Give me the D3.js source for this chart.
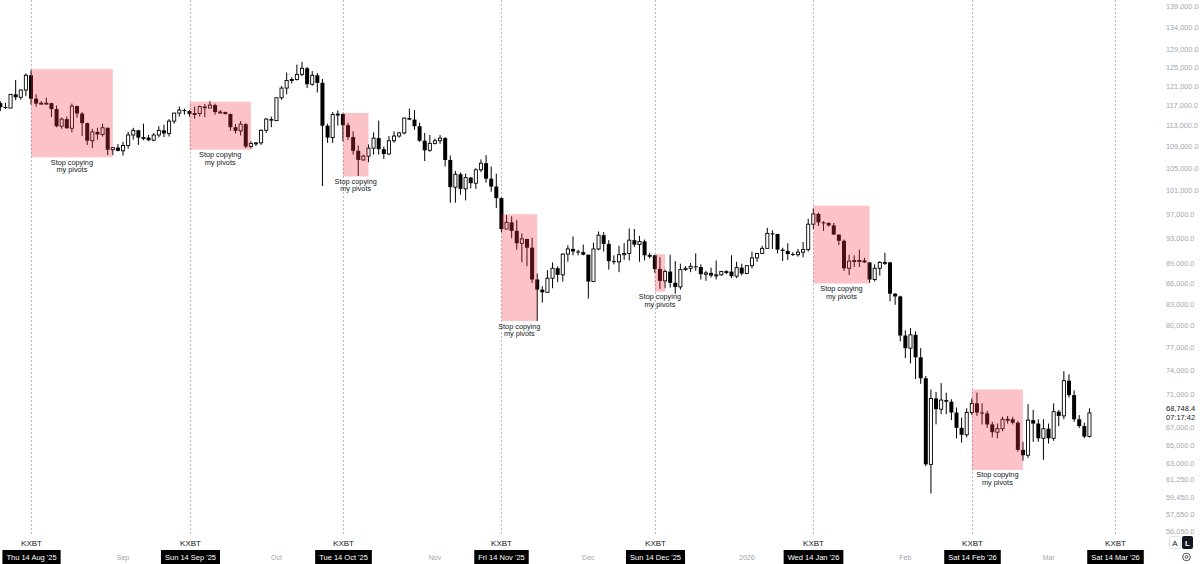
<!DOCTYPE html>
<html>
<head>
<meta charset="utf-8">
<script src="https://cdn.jsdelivr.net/npm/d3@7"></script>
<style>
html, body { margin: 0; padding: 0; background: #fff; }
svg { display: block; font-family: "Liberation Sans", Arial, sans-serif; }
</style>
</head>
<body>
<svg class="chart" width="1200" height="564"></svg>
<script>
const svg = d3.select(".chart");
const DAY = 86400000;
const BOXFILL = "rgba(242, 54, 69, 0.3)";
const AXISTEXT = "#a3a6af";
const DARKTEXT = "#131722";

// daily candles, open/high/low/close in thousands of USD, starting on firstDay
const firstDay = "2025-08-08";
const aug25 = [
    [117.5, 117.9, 115.9, 116.7], [116.7, 117.6, 116.3, 116.5], [116.5, 119.3, 116.5, 119.3], [119.3, 122.3, 118.1, 118.7],
    [118.7, 120.3, 118.2, 120.2], [120.2, 123.7, 118.9, 123.3], [123.3, 124.4, 117.2, 118.4], [118.4, 119.3, 116.8, 117.4],
    [117.4, 117.9, 117.2, 117.5], [117.5, 118.6, 117.3, 117.5], [117.5, 117.6, 114.7, 116.3], [116.3, 117.0, 112.7, 112.9],
    [112.9, 114.6, 112.4, 114.3], [114.3, 114.8, 112.4, 112.5], [112.5, 117.4, 111.7, 116.9], [116.9, 117.0, 114.6, 115.4],
    [115.4, 115.7, 111.0, 113.5], [113.5, 113.6, 109.3, 110.1], [110.1, 112.4, 108.7, 111.8], [111.8, 112.6, 110.3, 111.3],
    [111.3, 113.4, 110.9, 112.6], [112.6, 112.6, 107.4, 108.4], [108.4, 108.9, 107.4, 108.8], [108.8, 109.5, 108.1, 108.2]
];
const sep25 = [
    [108.2, 109.9, 107.3, 109.2], [109.2, 111.8, 108.6, 111.2], [111.2, 112.6, 110.3, 112.1], [112.1, 112.2, 109.3, 110.7],
    [110.7, 113.4, 110.2, 110.7], [110.7, 111.2, 110.0, 110.2], [110.2, 111.6, 110.0, 111.2], [111.2, 112.9, 110.7, 112.1],
    [112.1, 113.2, 110.8, 111.5], [111.5, 114.3, 110.9, 113.9], [113.9, 115.5, 113.4, 115.5], [115.5, 116.8, 114.8, 116.1],
    [116.1, 116.4, 115.2, 115.9], [115.9, 116.1, 114.8, 115.3], [115.3, 116.8, 114.4, 115.4], [115.4, 117.0, 114.8, 116.8],
    [116.8, 117.3, 114.7, 116.5], [116.5, 117.9, 116.5, 117.1], [117.1, 117.4, 115.2, 115.7], [115.7, 116.1, 115.5, 115.7],
    [115.7, 115.8, 115.2, 115.3], [115.3, 115.4, 112.0, 112.7], [112.7, 113.3, 111.5, 112.0], [112.0, 113.9, 111.1, 113.3],
    [113.3, 113.5, 108.7, 109.0], [109.0, 110.0, 108.6, 109.6], [109.6, 109.8, 109.1, 109.7], [109.7, 112.3, 109.3, 112.1],
    [112.1, 114.5, 111.6, 114.3], [114.3, 114.8, 112.7, 114.0]
];
const oct25 = [
    [114.0, 118.6, 113.9, 118.6], [118.6, 121.0, 118.2, 120.6], [120.6, 123.9, 119.3, 122.2], [122.2, 122.9, 121.6, 122.4],
    [122.4, 125.6, 122.2, 123.5], [123.5, 126.2, 123.1, 124.8], [124.8, 125.1, 120.6, 121.4], [121.4, 124.2, 121.1, 123.3],
    [123.3, 123.8, 119.7, 121.7], [121.7, 122.5, 101.8, 113.0], [113.0, 113.4, 109.7, 110.7], [110.7, 115.7, 109.7, 115.2],
    [115.2, 116.0, 113.0, 115.3], [115.3, 115.4, 110.0, 113.1], [113.1, 113.6, 110.2, 110.8], [110.8, 111.9, 107.5, 108.2],
    [108.2, 109.2, 103.6, 106.5], [106.5, 107.5, 106.4, 107.2], [107.2, 109.4, 106.1, 108.7], [108.7, 111.7, 107.5, 110.6],
    [110.6, 114.0, 107.5, 108.5], [108.5, 109.0, 106.7, 107.6], [107.6, 111.0, 107.5, 110.1], [110.1, 111.9, 109.7, 111.0],
    [111.0, 111.8, 110.7, 111.6], [111.6, 114.6, 111.3, 114.5], [114.5, 116.4, 114.1, 114.2], [114.2, 116.1, 112.2, 112.9],
    [112.9, 113.6, 109.9, 110.1], [110.1, 111.6, 106.3, 108.3], [108.3, 111.2, 108.0, 109.6]
];
const nov25 = [
    [109.6, 110.5, 109.4, 110.1], [110.1, 111.2, 109.5, 110.6], [110.6, 110.8, 105.3, 106.5], [106.5, 107.3, 98.9, 101.6],
    [101.6, 104.5, 98.9, 103.9], [103.9, 104.2, 100.3, 101.3], [101.3, 104.0, 99.3, 103.3], [103.3, 103.4, 101.4, 102.3],
    [102.3, 105.0, 101.3, 104.7], [104.7, 106.6, 104.3, 105.9], [105.9, 107.4, 102.4, 103.1], [103.1, 105.3, 100.8, 101.7],
    [101.7, 104.0, 98.0, 99.7], [99.7, 99.8, 94.0, 94.5], [94.5, 96.8, 94.5, 95.6], [95.6, 96.6, 93.0, 94.2],
    [94.2, 96.0, 91.2, 92.2], [92.2, 93.8, 89.2, 92.9], [92.9, 92.9, 88.6, 91.5], [91.5, 93.1, 86.1, 86.6],
    [86.6, 87.5, 80.6, 85.1], [85.1, 85.6, 83.2, 84.7], [84.7, 88.0, 84.7, 86.8], [86.8, 89.2, 85.3, 88.3],
    [88.3, 88.6, 86.2, 87.3], [87.3, 90.6, 86.3, 90.5], [90.5, 91.9, 89.3, 91.3], [91.3, 93.3, 90.3, 90.9],
    [90.9, 91.2, 90.3, 90.8], [90.8, 92.0, 90.3, 90.4]
];
const dec25 = [
    [90.4, 90.4, 83.8, 86.3], [86.3, 92.3, 86.2, 91.3], [91.3, 94.1, 91.1, 93.5], [93.5, 94.0, 90.9, 92.1],
    [92.1, 92.7, 88.1, 89.4], [89.4, 90.3, 88.9, 89.3], [89.3, 91.8, 87.7, 90.4], [90.4, 92.2, 89.6, 90.6],
    [90.6, 94.6, 89.5, 92.7], [92.7, 94.5, 91.6, 92.0], [92.0, 93.4, 89.3, 92.5], [92.5, 92.8, 89.5, 90.3],
    [90.3, 90.7, 89.8, 90.3], [90.3, 90.4, 87.6, 88.2], [88.2, 90.0, 85.2, 86.4], [86.4, 88.1, 85.3, 87.8],
    [87.8, 90.4, 85.4, 86.1], [86.1, 89.4, 84.5, 85.5], [85.5, 89.0, 85.1, 88.1], [88.1, 88.6, 87.9, 88.3],
    [88.3, 89.1, 87.7, 88.6], [88.6, 90.6, 87.9, 88.5], [88.5, 88.9, 86.6, 87.4], [87.4, 87.9, 86.4, 87.6],
    [87.6, 88.4, 86.9, 87.2], [87.2, 89.5, 86.6, 87.3], [87.3, 87.9, 87.2, 87.8], [87.8, 88.0, 87.4, 87.8],
    [87.8, 90.3, 86.8, 87.1], [87.1, 89.3, 86.8, 88.4], [88.4, 89.0, 87.2, 87.5]
];
const jan26 = [
    [87.5, 88.8, 87.4, 88.7], [88.7, 90.9, 88.3, 89.9], [89.9, 90.6, 89.3, 90.6], [90.6, 91.8, 90.5, 91.4],
    [91.4, 94.7, 91.4, 93.8], [93.8, 94.3, 91.3, 93.7], [93.7, 93.7, 90.6, 91.2], [91.2, 91.5, 89.4, 91.0],
    [91.0, 92.2, 89.6, 90.5], [90.5, 90.8, 90.2, 90.4], [90.4, 91.3, 90.1, 90.8], [90.8, 92.4, 90.0, 91.2],
    [91.2, 96.2, 90.9, 95.3], [95.3, 97.9, 94.5, 97.0], [97.0, 97.2, 95.0, 95.6], [95.6, 95.8, 94.2, 95.5],
    [95.5, 95.6, 94.9, 95.1], [95.1, 95.5, 93.6, 93.6], [93.6, 93.6, 91.9, 92.6], [92.6, 92.8, 87.9, 88.3],
    [88.3, 90.4, 87.3, 89.4], [89.4, 90.3, 88.5, 89.5], [89.5, 91.2, 88.5, 89.5], [89.5, 89.9, 89.1, 89.2],
    [89.2, 89.2, 86.1, 86.6], [86.6, 88.9, 86.3, 88.3], [88.3, 89.4, 87.2, 89.2], [89.2, 90.7, 88.8, 89.2],
    [89.2, 89.3, 83.4, 84.5], [84.5, 84.6, 82.9, 84.1], [84.1, 84.2, 77.8, 78.6]
];
const feb26 = [
    [78.6, 79.3, 75.6, 76.9], [76.9, 79.6, 74.9, 78.7], [78.7, 79.2, 72.9, 75.7], [75.7, 76.9, 72.3, 73.0],
    [73.0, 73.3, 62.7, 62.9], [62.9, 71.6, 59.8, 70.5], [70.5, 71.3, 67.4, 69.2], [69.2, 72.4, 68.6, 70.3],
    [70.3, 71.2, 68.6, 70.1], [70.1, 70.4, 67.9, 68.8], [68.8, 69.4, 65.8, 67.0], [67.0, 68.2, 65.3, 66.2],
    [66.2, 69.3, 65.9, 68.8], [68.8, 70.5, 68.5, 69.9], [69.9, 71.2, 68.4, 68.8], [68.8, 69.9, 67.4, 68.7],
    [68.7, 69.0, 67.0, 67.4], [67.4, 67.7, 65.9, 66.5], [66.5, 67.5, 65.8, 66.9], [66.9, 68.3, 66.6, 68.0],
    [68.0, 68.4, 67.5, 68.0], [68.0, 68.3, 67.4, 67.6], [67.6, 67.8, 64.3, 64.5], [64.5, 65.4, 63.3, 63.9],
    [63.9, 69.8, 63.6, 67.9], [67.9, 69.1, 65.4, 67.5], [67.5, 68.0, 65.4, 65.8], [65.8, 68.0, 63.4, 66.9]
];
const mar26 = [
    [66.9, 67.5, 65.2, 65.8], [65.8, 69.9, 65.5, 68.9], [68.9, 69.1, 67.2, 68.4], [68.4, 73.9, 68.0, 72.7],
    [72.7, 73.5, 70.6, 70.9], [70.9, 71.5, 67.7, 68.0], [68.0, 68.5, 67.0, 67.2], [67.2, 67.6, 65.8, 66.0],
    [66.0, 69.3, 65.9, 68.7484]
];

const priceTicks = [139000, 134000, 129000, 125000, 121000, 117000, 113000, 109000, 105000, 101000, 97000, 93000,
    89000, 86000, 83000, 80000, 77000, 74000, 71000, 67000, 65000, 63000, 61250, 59450, 57650, 56050];

const markerDates = ["2025-08-14", "2025-09-14", "2025-10-14", "2025-11-14", "2025-12-14", "2026-01-14", "2026-02-14", "2026-03-14"];
const markerLabels = ["Thu 14 Aug '25", "Sun 14 Sep '25", "Tue 14 Oct '25", "Fri 14 Nov '25", "Sun 14 Dec '25", "Wed 14 Jan '26", "Sat 14 Feb '26", "Sat 14 Mar '26"];
const monthDates = ["2025-09-01", "2025-10-01", "2025-11-01", "2025-12-01", "2026-01-01", "2026-02-01", "2026-03-01"];
const monthNames = ["Sep", "Oct", "Nov", "Dec", "2026", "Feb", "Mar"];

// the pink "pivot" boxes
const boxStart = ["2025-08-14", "2025-09-14", "2025-10-14", "2025-11-14", "2025-12-14", "2026-01-14", "2026-02-14"];
const boxEnd = ["2025-08-30", "2025-09-26", "2025-10-19", "2025-11-21", "2025-12-16", "2026-01-25", "2026-02-24"];
const boxTop = [124600, 117800, 115500, 96960, 90500, 98400, 71600];
const boxBottom = [107000, 108400, 103500, 80600, 84800, 86000, 62300];
const boxText = ["Stop copying", "my pivots"];

const symbol = "KXBT";
const countdown = "07:17:42";

const candles = [].concat(aug25, sep25, oct25, nov25, dec25, jan26, feb26, mar26).map((d, i) => ({
    date: new Date(Date.parse(firstDay) + i * DAY),
    o: d[0] * 1000, h: d[1] * 1000, l: d[2] * 1000, c: d[3] * 1000
}));
const lastPrice = candles[candles.length - 1].c;

const xScale = d3.scaleUtc()
    .domain([new Date(markerDates[0]), new Date(markerDates[markerDates.length - 1])])
    .range([31, 1115]);

const yScale = d3.scaleLog()
    .domain([56050, 139000])
    .range([531, 6]);

// dashed verticals on the 14th of each month
svg.append("g")
    .selectAll("line")
    .data(markerDates)
    .enter()
    .append("line")
    .attr("x1", d => Math.round(xScale(new Date(d))) + 0.5)
    .attr("x2", d => Math.round(xScale(new Date(d))) + 0.5)
    .attr("y1", 0)
    .attr("y2", 536)
    .style("stroke", "#b8bbc2")
    .style("stroke-dasharray", "2,2");

// candles
var g = svg.append("g")
    .selectAll("g")
    .data(candles)
    .enter()
    .append("g");

g.append("line")
    .attr("x1", d => xScale(d.date))
    .attr("x2", d => xScale(d.date))
    .attr("y1", d => yScale(d.h))
    .attr("y2", d => yScale(d.l))
    .style("stroke", "#000")
    .style("stroke-width", 1);

g.append("rect")
    .attr("x", d => xScale(d.date) - (d.c >= d.o ? 1.55 : 2))
    .attr("width", d => (d.c >= d.o ? 3.1 : 4))
    .attr("y", d => yScale(Math.max(d.o, d.c)))
    .attr("height", d => Math.max(1, yScale(Math.min(d.o, d.c)) - yScale(Math.max(d.o, d.c))))
    .style("fill", d => (d.c >= d.o ? "#fff" : "#000"))
    .style("stroke", d => (d.c >= d.o ? "#000" : "none"))
    .style("stroke-width", 0.9);

// pink boxes and their notes
var boxes = svg.append("g")
    .selectAll("g")
    .data(boxStart.map((s, i) => ({ s: new Date(s), e: new Date(boxEnd[i]), top: boxTop[i], bottom: boxBottom[i] })))
    .enter()
    .append("g");

boxes.append("rect")
    .attr("x", d => xScale(d.s))
    .attr("width", d => xScale(d.e) - xScale(d.s))
    .attr("y", d => yScale(d.top))
    .attr("height", d => yScale(d.bottom) - yScale(d.top))
    .style("fill", BOXFILL);

boxText.forEach((t, k) => {
    boxes.append("text")
        .attr("x", d => (xScale(d.s) + xScale(d.e)) / 2)
        .attr("y", d => yScale(d.bottom) + 7.5 + k * 7.5)
        .text(t)
        .style("text-anchor", "middle")
        .style("font-size", "7.3px")
        .style("fill", DARKTEXT);
});

// price scale
svg.append("g")
    .selectAll("text")
    .data(priceTicks)
    .enter()
    .append("text")
    .attr("x", 1166)
    .attr("y", d => yScale(d))
    .attr("dy", "0.35em")
    .text(d => d3.format(",.1f")(d))
    .style("font-size", "7.3px")
    .style("fill", AXISTEXT);

svg.append("text")
    .attr("x", 1166)
    .attr("y", yScale(lastPrice) - 2)
    .text(d3.format(",.1f")(lastPrice))
    .style("font-size", "7.5px")
    .style("fill", DARKTEXT);

svg.append("text")
    .attr("x", 1166)
    .attr("y", yScale(lastPrice) + 7)
    .text(countdown)
    .style("font-size", "7.5px")
    .style("fill", DARKTEXT);

// time scale
svg.append("g")
    .selectAll("text")
    .data(monthDates)
    .enter()
    .append("text")
    .attr("x", d => xScale(new Date(d)))
    .attr("y", 560)
    .text((d, i) => monthNames[i])
    .style("text-anchor", "middle")
    .style("font-size", "7px")
    .style("fill", AXISTEXT);

var marks = svg.append("g")
    .selectAll("g")
    .data(markerDates)
    .enter()
    .append("g")
    .attr("transform", d => `translate(${Math.round(xScale(new Date(d))) + 0.5}, 0)`);

marks.append("text")
    .attr("y", 546)
    .text(symbol)
    .style("text-anchor", "middle")
    .style("font-size", "8px")
    .style("fill", DARKTEXT);

marks.append("rect")
    .attr("class", "tag")
    .attr("y", 550)
    .attr("height", 14)
    .style("fill", "#000");

marks.append("text")
    .attr("class", "tag-text")
    .attr("y", 560)
    .text((d, i) => markerLabels[i])
    .style("text-anchor", "middle")
    .style("font-size", "7.5px")
    .style("fill", "#fff");

marks.each(function () {
    const w = d3.select(this).select(".tag-text").node().getComputedTextLength() + 8;
    d3.select(this).select(".tag").attr("x", -w / 2).attr("width", w);
});

// bottom-right buttons
svg.append("rect").attr("x", 1169.5).attr("y", 536.5).attr("width", 11).attr("height", 12).attr("rx", 2)
    .style("fill", "#fff").style("stroke", "#e0e3eb");
svg.append("text").attr("x", 1175).attr("y", 545.5).text("A")
    .style("text-anchor", "middle").style("font-size", "8px").style("fill", DARKTEXT);
svg.append("rect").attr("x", 1182).attr("y", 536).attr("width", 11).attr("height", 13).attr("rx", 2)
    .style("fill", "#131722");
svg.append("text").attr("x", 1187.5).attr("y", 545.5).text("L")
    .style("text-anchor", "middle").style("font-size", "8px").style("font-weight", "bold").style("fill", "#fff");
svg.append("circle").attr("cx", 1186.5).attr("cy", 557).attr("r", 3.8)
    .style("fill", "none").style("stroke", "#50535e").style("stroke-width", 1);
svg.append("circle").attr("cx", 1186.5).attr("cy", 557).attr("r", 1.4)
    .style("fill", "none").style("stroke", "#50535e").style("stroke-width", 1);
</script>
</body>
</html>
